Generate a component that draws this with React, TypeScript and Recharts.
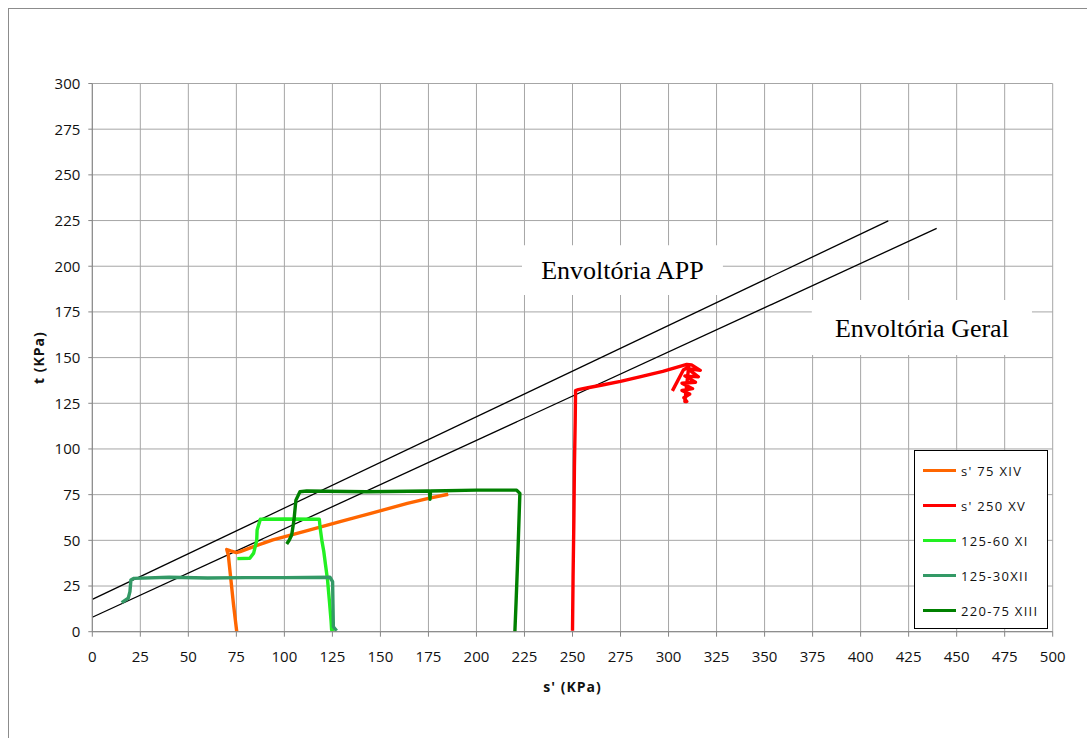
import { LineChart, Line, XAxis, YAxis, CartesianGrid, ReferenceArea } from 'recharts';

const sTicks = [0, 25, 50, 75, 100, 125, 150, 175, 200, 225, 250, 275, 300, 325, 350, 375, 400, 425, 450, 475, 500];
const tTicks = [0, 25, 50, 75, 100, 125, 150, 175, 200, 225, 250, 275, 300];

// s' 75 XIV
const s75XIV = [
  { s: 75.2, t: 0 }, { s: 73.5, t: 15 }, { s: 72, t: 30 }, { s: 70.8, t: 42 }, { s: 70, t: 45 },
  { s: 72, t: 44.2 }, { s: 75, t: 43.3 }, { s: 77, t: 43.8 }, { s: 85, t: 47 }, { s: 94, t: 50.2 },
  { s: 110, t: 54.8 }, { s: 129, t: 60.2 }, { s: 145, t: 64.8 }, { s: 164, t: 70.2 }, { s: 175, t: 73 },
  { s: 185.3, t: 75.2 },
];

// s' 250 XV
const s250XV = [
  { s: 250, t: 0.5 }, { s: 250.3, t: 30 }, { s: 250.7, t: 60 }, { s: 251, t: 90 }, { s: 251.4, t: 115 },
  { s: 251.6, t: 132 }, { s: 253, t: 132.5 }, { s: 258, t: 133.5 }, { s: 265.5, t: 135 }, { s: 275, t: 137 },
  { s: 285, t: 139.5 }, { s: 297, t: 142.5 }, { s: 309.5, t: 146.3 }, { s: 312, t: 146 }, { s: 316.5, t: 143 },
  { s: 310, t: 144 }, { s: 315.5, t: 139.5 }, { s: 308.5, t: 140 }, { s: 314, t: 136.5 }, { s: 307, t: 136 },
  { s: 312.5, t: 133 }, { s: 307, t: 132 }, { s: 311, t: 130 }, { s: 308, t: 128 }, { s: 309.5, t: 126 },
  { s: 308.5, t: 126 }, { s: 310.5, t: 145 }, { s: 307.7, t: 143.2 }, { s: 302, t: 131.8 },
];

// 125-60 XI
const s125_60XI = [
  { s: 75.5, t: 40 }, { s: 82, t: 40.2 }, { s: 84, t: 43 }, { s: 85.6, t: 50 }, { s: 85.8, t: 55.6 },
  { s: 87.5, t: 61.5 }, { s: 100, t: 61.7 }, { s: 118.2, t: 61.5 }, { s: 118.6, t: 57 }, { s: 119.5, t: 50 },
  { s: 120.5, t: 44 }, { s: 121.5, t: 36 }, { s: 122.5, t: 28 }, { s: 123.5, t: 16 }, { s: 124.3, t: 6 },
  { s: 124.6, t: 1 }, { s: 125.8, t: 1.5 },
];

// 125-30XII
const s125_30XII = [
  { s: 15.3, t: 15.9 }, { s: 18.7, t: 18.3 }, { s: 19.6, t: 21.9 }, { s: 20.1, t: 28.3 }, { s: 21.7, t: 29.2 },
  { s: 40, t: 29.8 }, { s: 60, t: 29.4 }, { s: 80, t: 29.6 }, { s: 100, t: 29.6 }, { s: 123.7, t: 29.8 },
  { s: 125.1, t: 27.4 }, { s: 125.3, t: 15 }, { s: 125.5, t: 2.7 }, { s: 127.2, t: 0.5 },
];

// 220-75 XIII
const s220_75XIII = [
  { s: 101.2, t: 48 }, { s: 102.5, t: 50 }, { s: 103.8, t: 52.9 }, { s: 105, t: 61.1 }, { s: 106, t: 72 },
  { s: 108.1, t: 76.6 }, { s: 111.6, t: 77 }, { s: 142.8, t: 76.6 }, { s: 175.5, t: 77 }, { s: 175.8, t: 72.5 },
  { s: 176.1, t: 77 }, { s: 200, t: 77.5 }, { s: 220.9, t: 77.5 }, { s: 222.6, t: 75.7 }, { s: 221.8, t: 50.2 },
  { s: 221.3, t: 35 }, { s: 220.6, t: 15.5 }, { s: 220, t: 0 },
];

const envAPP = [{ s: 0, t: 17.7 }, { s: 414.4, t: 224.8 }];
const envGeral = [{ s: 0, t: 7.9 }, { s: 439.6, t: 220.7 }];

const series = [
  { name: "s' 75 XIV", data: s75XIV, color: '#ff6600' },
  { name: "s' 250 XV", data: s250XV, color: '#ff0000' },
  { name: '125-60 XI', data: s125_60XI, color: '#22f022' },
  { name: '125-30XII', data: s125_30XII, color: '#339966' },
  { name: '220-75 XIII', data: s220_75XIII, color: '#008000' },
];

const notes = [
  { text: 'Envoltória APP', s1: 223.7, s2: 328.3, t1: 184.2, t2: 211.5 },
  { text: 'Envoltória Geral', s1: 374.6, s2: 489.2, t1: 151.4, t2: 181.5 },
];

const sans = '"Open Sans", "DejaVu Sans", sans-serif';

export default function App() {
  return (
    <div style={{ position: 'fixed', left: 8, top: 8, width: 1079, height: 730, border: '1px solid #8c8c8c', borderRight: 'none', borderBottom: 'none', background: '#fff', overflow: 'hidden' }}>
      <div style={{ position: 'absolute', left: 0, top: 0 }}>
        <LineChart width={1070} height={720} margin={{ top: 74.5, right: 26.3, left: 0, bottom: 37.3 }}>
          <CartesianGrid stroke="#a6a6a6" strokeWidth={1} />
          <XAxis
            type="number"
            dataKey="s"
            domain={[0, 500]}
            ticks={sTicks}
            allowDataOverflow
            height={60}
            tickSize={5}
            tickMargin={15}
            stroke="#868686"
            tick={{ fill: '#111', fontSize: 15, fontFamily: sans }}
            label={{ value: "s' (KPa)", position: 'insideBottom', offset: 0, fill: '#111', fontSize: 14, fontWeight: 'bold', fontFamily: sans, letterSpacing: 1 }}
          />
          <YAxis
            type="number"
            dataKey="t"
            domain={[0, 300]}
            ticks={tTicks}
            allowDataOverflow
            width={83.3}
            tickSize={4}
            tickMargin={8}
            stroke="#868686"
            tick={{ fill: '#111', fontSize: 15, fontFamily: sans }}
            label={{ value: 't (KPa)', angle: -90, position: 'insideLeft', offset: 30, fill: '#111', fontSize: 14, fontWeight: 'bold', fontFamily: sans, letterSpacing: 1, style: { textAnchor: 'middle' } }}
          />
          {notes.map((n) => (
            <ReferenceArea
              key={n.text}
              x1={n.s1}
              x2={n.s2}
              y1={n.t1}
              y2={n.t2}
              fill="#ffffff"
              fillOpacity={1}
              stroke="none"
              label={{ value: n.text, position: 'center', fontSize: 26, fontFamily: '"Liberation Serif", serif', fill: '#000' }}
            />
          ))}
          <Line data={envAPP} dataKey="t" type="linear" stroke="#000" strokeWidth={1.3} dot={false} isAnimationActive={false} legendType="none" />
          <Line data={envGeral} dataKey="t" type="linear" stroke="#000" strokeWidth={1.3} dot={false} isAnimationActive={false} legendType="none" />
          {series.map((sr) => (
            <Line
              key={sr.name}
              name={sr.name}
              data={sr.data}
              dataKey="t"
              type="linear"
              stroke={sr.color}
              strokeWidth={3.4}
              strokeLinejoin="round"
              dot={false}
              isAnimationActive={false}
            />
          ))}
        </LineChart>
      </div>
      <div style={{ position: 'absolute', left: 905, top: 441, width: 132, height: 175, border: '1px solid #000', background: '#fff', paddingTop: 2, boxSizing: 'content-box' }}>
        {series.map((sr) => (
          <div key={sr.name} style={{ height: 35, display: 'flex', alignItems: 'center' }}>
            <div style={{ marginLeft: 8, width: 33, height: 3, background: sr.color }} />
            <span style={{ marginLeft: 5, fontFamily: sans, fontSize: 13, color: '#111', letterSpacing: 1.3, whiteSpace: 'nowrap' }}>{sr.name}</span>
          </div>
        ))}
      </div>
    </div>
  );
}
